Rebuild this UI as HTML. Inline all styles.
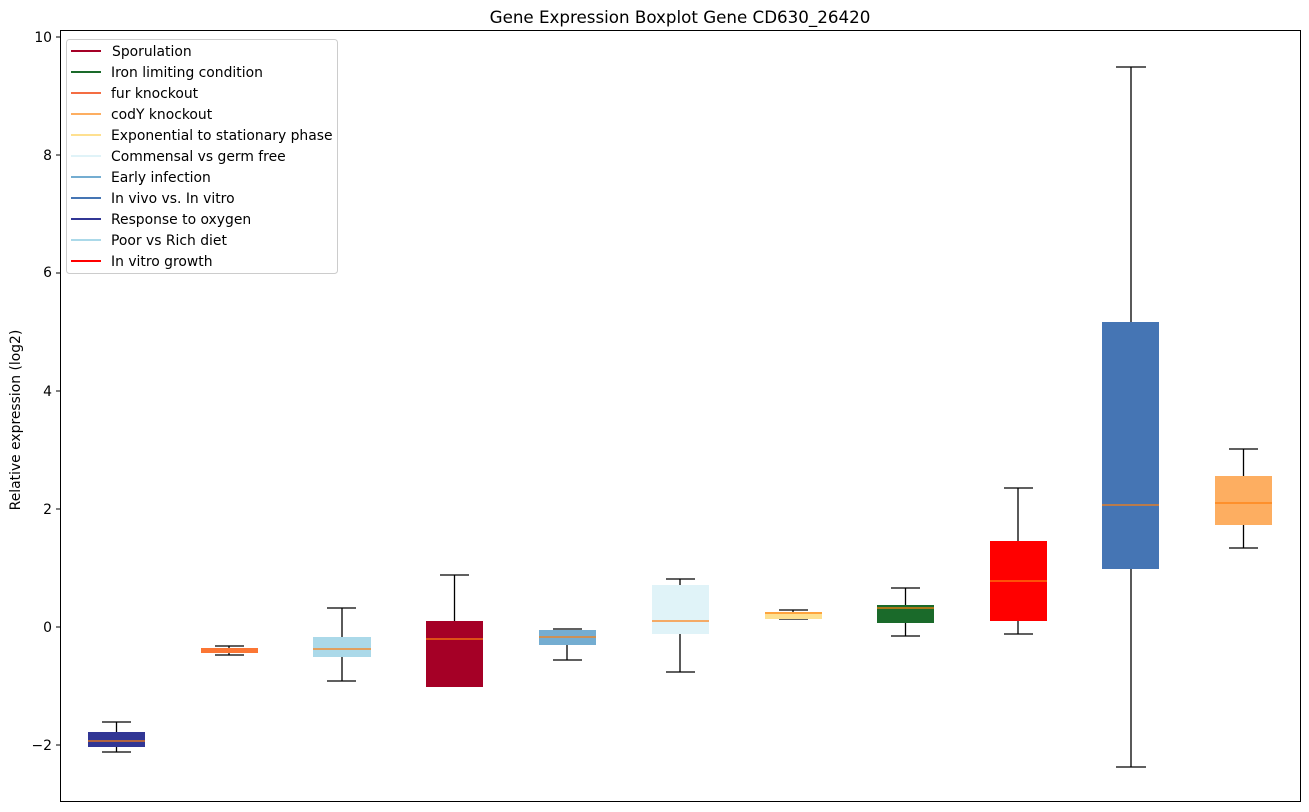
<!DOCTYPE html>
<html><head><meta charset="utf-8"><style>body{margin:0;background:#fff}svg{display:block}text{font-family:"DejaVu Sans","Liberation Sans",sans-serif;fill:#000}</style></head><body>
<svg width="1309" height="812" viewBox="0 0 1309 812" xmlns="http://www.w3.org/2000/svg">
<rect width="1309" height="812" fill="#fff"/>
<text x="680" y="23" font-size="16.7" text-anchor="middle">Gene Expression Boxplot Gene CD630_26420</text>
<text transform="translate(20,420) rotate(-90)" font-size="13.9" text-anchor="middle">Relative expression (log2)</text>
<g font-size="13.9" text-anchor="end">
<text x="52" y="42">10</text><text x="52" y="160">8</text><text x="52" y="277">6</text><text x="52" y="396">4</text><text x="52" y="514">2</text><text x="52" y="632">0</text><text x="52" y="750">−2</text>
</g>
<g stroke="#000" stroke-width="1">
<line x1="56" x2="60" y1="37" y2="37"/><line x1="56" x2="60" y1="155" y2="155"/><line x1="56" x2="60" y1="273" y2="273"/><line x1="56" x2="60" y1="391" y2="391"/><line x1="56" x2="60" y1="509" y2="509"/><line x1="56" x2="60" y1="627" y2="627"/><line x1="56" x2="60" y1="745" y2="745"/>
</g>
<g stroke-width="1.3">
<g stroke="#000"><line x1="116.5" x2="116.5" y1="722" y2="752"/><line x1="102" x2="131" y1="722" y2="722"/><line x1="102" x2="131" y1="752" y2="752"/></g>
<rect x="88" y="732" width="57" height="15" fill="#313695"/><line x1="88" x2="145" y1="741" y2="741" stroke="#ff7f0e"/>

<g stroke="#000"><line x1="229" x2="229" y1="646" y2="655"/><line x1="215" x2="244" y1="646" y2="646"/><line x1="215" x2="244" y1="655" y2="655"/></g>
<rect x="201" y="648" width="57" height="5" fill="#fb7634"/>

<g stroke="#000"><line x1="342" x2="342" y1="608" y2="681"/><line x1="327" x2="356" y1="608" y2="608"/><line x1="327" x2="356" y1="681" y2="681"/></g>
<rect x="313" y="637" width="58" height="20" fill="#abd9e9"/><line x1="313" x2="371" y1="649" y2="649" stroke="#ff7f0e"/>

<g stroke="#000"><line x1="454.5" x2="454.5" y1="575" y2="621"/><line x1="440" x2="469" y1="575" y2="575"/></g>
<rect x="426" y="621" width="57" height="66" fill="#a50026"/><line x1="426" x2="483" y1="639" y2="639" stroke="#ff7f0e"/>

<g stroke="#000"><line x1="567" x2="567" y1="645" y2="660"/><line x1="553" x2="582" y1="660" y2="660"/><line x1="553" x2="582" y1="629" y2="629"/></g>
<rect x="539" y="630" width="57" height="15" fill="#74add1"/><line x1="539" x2="596" y1="637" y2="637" stroke="#ff7f0e"/>

<g stroke="#000"><line x1="680" x2="680" y1="579" y2="672"/><line x1="666" x2="695" y1="579" y2="579"/><line x1="666" x2="695" y1="672" y2="672"/></g>
<rect x="652" y="585" width="57" height="49" fill="#e0f3f8"/><line x1="652" x2="709" y1="621" y2="621" stroke="#ff7f0e"/>

<g stroke="#000"><line x1="793" x2="793" y1="610" y2="619"/><line x1="779" x2="808" y1="610" y2="610"/><line x1="779" x2="808" y1="619" y2="619"/></g>
<rect x="765" y="612" width="57" height="7" fill="#fee090"/><line x1="765" x2="822" y1="613" y2="613" stroke="#ff7f0e"/>

<g stroke="#000"><line x1="905.5" x2="905.5" y1="588" y2="636"/><line x1="891" x2="920" y1="588" y2="588"/><line x1="891" x2="920" y1="636" y2="636"/></g>
<rect x="877" y="605" width="57" height="18" fill="#1a6a2a"/><line x1="877" x2="934" y1="608" y2="608" stroke="#ff7f0e"/>

<g stroke="#000"><line x1="1018" x2="1018" y1="488" y2="634"/><line x1="1004" x2="1033" y1="488" y2="488"/><line x1="1004" x2="1033" y1="634" y2="634"/></g>
<rect x="990" y="541" width="57" height="80" fill="#ff0000"/><line x1="990" x2="1047" y1="581" y2="581" stroke="#ff7f0e"/>

<g stroke="#000"><line x1="1131" x2="1131" y1="67" y2="767"/><line x1="1116" x2="1146" y1="67" y2="67"/><line x1="1116" x2="1146" y1="767" y2="767"/></g>
<rect x="1102" y="322" width="57" height="247" fill="#4575b4"/><line x1="1102" x2="1159" y1="505" y2="505" stroke="#ff7f0e"/>

<g stroke="#000"><line x1="1243.5" x2="1243.5" y1="449" y2="548"/><line x1="1229" x2="1258" y1="449" y2="449"/><line x1="1229" x2="1258" y1="548" y2="548"/></g>
<rect x="1215" y="476" width="57" height="49" fill="#fdae61"/><line x1="1215" x2="1272" y1="503" y2="503" stroke="#ff7f0e"/>
</g>
<rect x="60.5" y="30.5" width="1240" height="771" fill="none" stroke="#000" stroke-width="1"/>
<rect x="66.5" y="39.5" width="271" height="234" rx="3" fill="#fff" fill-opacity="0.8" stroke="#ccc"/>
<g stroke-width="2">
<line x1="71" x2="101" y1="51" y2="51" stroke="#a50026"/>
<line x1="71" x2="101" y1="72" y2="72" stroke="#1a6a2a"/>
<line x1="71" x2="101" y1="93" y2="93" stroke="#f46d43"/>
<line x1="71" x2="101" y1="114" y2="114" stroke="#fdae61"/>
<line x1="71" x2="101" y1="135" y2="135" stroke="#fee090"/>
<line x1="71" x2="101" y1="156" y2="156" stroke="#e0f3f8"/>
<line x1="71" x2="101" y1="177" y2="177" stroke="#74add1"/>
<line x1="71" x2="101" y1="198" y2="198" stroke="#4575b4"/>
<line x1="71" x2="101" y1="219" y2="219" stroke="#313695"/>
<line x1="71" x2="101" y1="240" y2="240" stroke="#abd9e9"/>
<line x1="71" x2="101" y1="261" y2="261" stroke="#ff0000"/>
</g>
<g font-size="13.9">
<text x="112" y="56">Sporulation</text>
<text x="111" y="77">Iron limiting condition</text>
<text x="111" y="98">fur knockout</text>
<text x="111" y="119">codY knockout</text>
<text x="111" y="140">Exponential to stationary phase</text>
<text x="111" y="161">Commensal vs germ free</text>
<text x="111" y="182">Early infection</text>
<text x="111" y="203">In vivo vs. In vitro</text>
<text x="111" y="224">Response to oxygen</text>
<text x="111" y="245">Poor vs Rich diet</text>
<text x="111" y="266">In vitro growth</text>
</g>
</svg>
</body></html>
